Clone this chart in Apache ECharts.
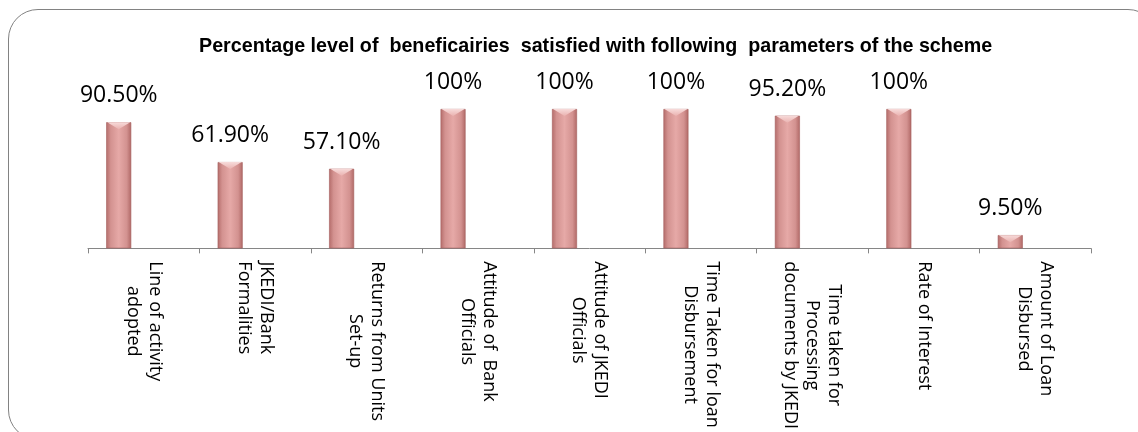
<!DOCTYPE html>
<html><head><meta charset="utf-8">
<script src="https://cdn.jsdelivr.net/npm/echarts@6/dist/echarts.min.js"></script>
<style>
html,body{margin:0;padding:0;background:#fff;overflow:hidden;width:1138px;height:432px;}
#frame{position:absolute;left:8px;top:9px;width:1150px;height:431px;border:1.6px solid #828282;border-radius:30px;box-sizing:border-box;}
#chart{position:absolute;left:0;top:0;width:1138px;height:432px;}
</style></head><body>
<div id="frame"></div><div id="chart"></div>
<script>
const titleText = 'Percentage level of  beneficairies  satisfied with following  parameters of the scheme';
const categories = [
  'Line of activity\nadopted',
  'JKEDI/Bank\nFormalities',
  'Returns from Units\nSet-up',
  'Attitude of  Bank\nOfficials',
  'Attitude of JKEDI\nOfficials',
  'Time Taken for loan\nDisbursement',
  'Time taken for\nProcessing\ndocuments by JKEDI',
  'Rate of Interest',
  'Amount of Loan\nDisbursed'
];
const values = [90.5, 61.9, 57.1, 100, 100, 100, 95.2, 100, 9.5];
const valueLabels = ['90.50%', '61.90%', '57.10%', '100%', '100%', '100%', '95.20%', '100%', '9.50%'];

const chart = echarts.init(document.getElementById('chart'), null, {renderer: 'canvas'});
const barColor = new echarts.graphic.LinearGradient(0, 0, 1, 0, [
  {offset: 0, color: '#b46c6a'},
  {offset: 0.18, color: '#d39290'},
  {offset: 0.5, color: '#e6a9a7'},
  {offset: 0.82, color: '#d39290'},
  {offset: 1, color: '#b06866'}
]);
const bevelColor = new echarts.graphic.LinearGradient(0, 0, 0, 1, [
  {offset: 0, color: '#f7dbda'},
  {offset: 1, color: '#eab2b0'}
]);
chart.setOption({
  animation: false,
  title: {
    text: titleText,
    left: 194, top: 32,
    textStyle: {fontSize: 19.7, fontWeight: 'bold', fontFamily: 'Liberation Sans', color: '#000'}
  },
  grid: {left: 88, right: 47, top: 109, bottom: 181, containLabel: false},
  xAxis: {
    type: 'category',
    data: categories,
    axisLine: {lineStyle: {color: '#868686', width: 1}},
    axisTick: {show: true, length: 5, lineStyle: {color: '#868686'}},
    axisLabel: {
      interval: 0,
      rotate: -90,
      margin: 13,
      formatter: v => v.split('\n').map(l => '{c|' + l + '}').join('\n'),
      rich: {c: {align: 'center', fontSize: 18, fontFamily: 'Open Sans', lineHeight: 22, color: '#000'}}
    }
  },
  yAxis: {type: 'value', min: 0, max: 100, show: false, splitLine: {show: false}},
  series: [
    {
      type: 'bar',
      data: values,
      barWidth: 25,
      barGap: '100%',
      itemStyle: {color: barColor, borderColor: '#a45e5c', borderWidth: 0.6},
      label: {
        show: true, position: 'top', distance: 15,
        formatter: p => valueLabels[p.dataIndex],
        fontSize: 23, fontFamily: 'Open Sans', color: '#000'
      }
    },
    {
      type: 'bar',
      data: values.map(() => '-'),
      barWidth: 25
    },
    {
      type: 'pictorialBar',
      data: values,
      symbol: 'path://M0,0 L20,0 L10,7 Z',
      symbolSize: [23, 7],
      symbolPosition: 'end',
      symbolOffset: [-25, 0],
      itemStyle: {color: bevelColor},
      z: 5,
      silent: true
    }
  ]
});
</script>
</body></html>
